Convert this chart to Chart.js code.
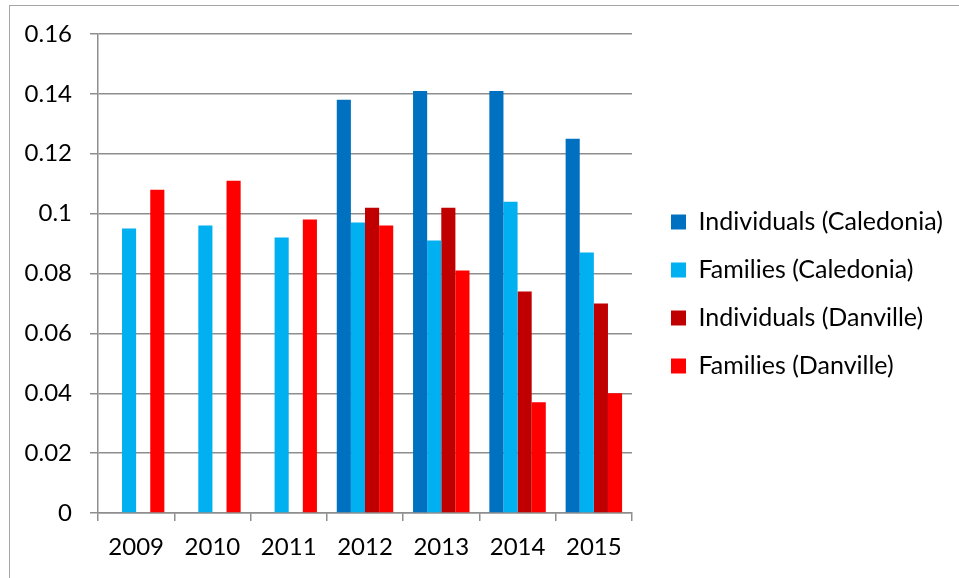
<!DOCTYPE html>
<html>
<head>
<meta charset="utf-8">
<script src="https://cdn.jsdelivr.net/npm/chart.js@4/dist/chart.umd.min.js"></script>
<style>
  html, body { margin: 0; padding: 0; background: #ffffff; overflow: hidden; }
  #frame { position: absolute; left: 9px; top: 5px; width: 980px; height: 600px;
           border-left: 1px solid #a6a6a6; border-top: 1px solid #a6a6a6; }
  #wrap { position: absolute; left: 0; top: 0; width: 959px; height: 578px; }
</style>
</head>
<body>
<div id="frame"></div>
<div id="wrap"><canvas id="c" width="959" height="578"></canvas></div>
<script>
// ---- data ----
const years = ['2009', '2010', '2011', '2012', '2013', '2014', '2015'];
const individualsCaledonia = [null, null, null, 0.138, 0.141, 0.141, 0.125];
const familiesCaledonia    = [0.095, 0.096, 0.092, 0.097, 0.091, 0.104, 0.087];
const individualsDanville  = [null, null, null, 0.102, 0.102, 0.074, 0.070];
const familiesDanville     = [0.108, 0.111, 0.098, 0.096, 0.081, 0.037, 0.040];
const seriesNames = ['Individuals (Caledonia)', 'Families (Caledonia)', 'Individuals (Danville)', 'Families (Danville)'];
const yTicks = [0, 0.02, 0.04, 0.06, 0.08, 0.1, 0.12, 0.14, 0.16];

// ---- style ----
const FONT = 'Lato';
const GRID = '#8e8e8e';
const LEGEND_WIDTH = 327;
const LEGEND_DX = 16;
const LEGEND_DY = -12;

const legendPlacer = {
  id: 'legendPlacer',
  beforeLayout(chart) {
    const lg = chart.legend;
    if (lg && !lg._patched) {
      const orig = lg.fit.bind(lg);
      lg.fit = function () { orig(); this.width = LEGEND_WIDTH; };
      lg._patched = true;
    }
  },
  afterLayout(chart) {
    const lg = chart.legend;
    if (lg) {
      lg.left += LEGEND_DX; lg.right += LEGEND_DX;
      lg.top += LEGEND_DY; lg.bottom += LEGEND_DY;
    }
  }
};

new Chart(document.getElementById('c'), {
  type: 'bar',
  data: {
    labels: years,
    datasets: [
      { label: seriesNames[0], data: individualsCaledonia, backgroundColor: '#0070C0' },
      { label: seriesNames[1], data: familiesCaledonia, backgroundColor: '#00B0F0' },
      { label: seriesNames[2], data: individualsDanville, backgroundColor: '#C00000' },
      { label: seriesNames[3], data: familiesDanville, backgroundColor: '#FF0000' }
    ]
  },
  options: {
    responsive: false,
    animation: false,
    devicePixelRatio: 1,
    layout: { padding: { left: 0, right: 0, top: 34, bottom: 0 } },
    datasets: { bar: { categoryPercentage: 0.74, barPercentage: 1.0 } },
    scales: {
      x: {
        offset: true,
        grid: { display: true, drawOnChartArea: false, offset: true, tickLength: 8, color: GRID, lineWidth: 1.5 },
        border: { display: true, color: GRID, width: 1.5 },
        ticks: { color: '#000', font: { family: FONT, size: 24 }, padding: 12, maxRotation: 0 },
        afterFit(scale) { scale.height = 65; }
      },
      y: {
        min: 0, max: 0.16,
        afterBuildTicks(scale) { scale.ticks = yTicks.map(v => ({ value: v })); },
        grid: { color: GRID, lineWidth: 1.5, tickLength: 8 },
        border: { display: true, color: GRID, width: 1.5 },
        ticks: {
          color: '#000', font: { family: FONT, size: 24 }, padding: 18,
          callback: v => String(Number(v.toFixed(2)))
        },
        afterFit(scale) { scale.width = 98; }
      }
    },
    plugins: {
      legend: {
        position: 'right',
        align: 'center',
        labels: {
          color: '#000', font: { family: FONT, size: 25 },
          boxWidth: 15, boxHeight: 15, padding: 23
        }
      },
      tooltip: { enabled: false }
    }
  },
  plugins: [legendPlacer]
});
</script>
</body>
</html>
